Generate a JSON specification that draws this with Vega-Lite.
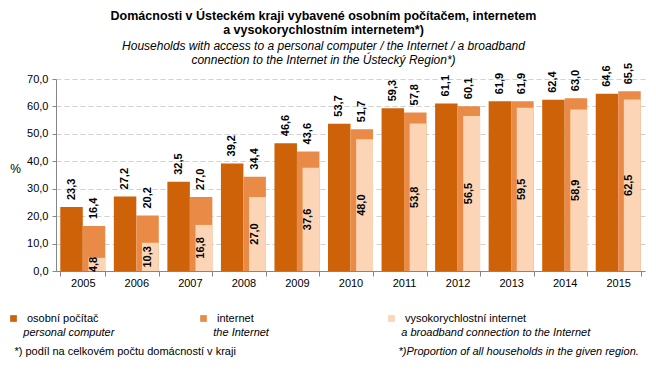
{
  "$schema": "https://vega.github.io/schema/vega-lite/v6.json",
  "width": 589,
  "height": 192,
  "autosize": {"type": "none"},
  "padding": {"left": 56, "top": 79, "right": 11, "bottom": 102},
  "background": "white",
  "config": {
    "font": "Liberation Sans",
    "locale": {"number": {"decimal": ",", "thousands": " ", "grouping": [3], "currency": ["", ""]}},
    "view": {"stroke": null}
  },
  "title": {
    "text": ["Domácnosti v Ústeckém  kraji vybavené osobním počítačem, internetem", "a vysokorychlostním  internetem*)"],
    "subtitle": ["Households with access to a personal computer / the Internet / a broadband", "connection to the Internet in the Ústecký Region*)"],
    "anchor": "middle",
    "dx": -27,
    "offset": -3,
    "fontSize": 12.5,
    "fontWeight": "bold",
    "lineHeight": 14,
    "color": "black",
    "subtitleFontSize": 12,
    "subtitleFontStyle": "italic",
    "subtitleLineHeight": 14,
    "subtitlePadding": 4,
    "subtitleColor": "black"
  },
  "data": {"values": [
    {"year": "2005", "series": "osobní počítač", "value": 23.3},
    {"year": "2006", "series": "osobní počítač", "value": 27.2},
    {"year": "2007", "series": "osobní počítač", "value": 32.5},
    {"year": "2008", "series": "osobní počítač", "value": 39.2},
    {"year": "2009", "series": "osobní počítač", "value": 46.6},
    {"year": "2010", "series": "osobní počítač", "value": 53.7},
    {"year": "2011", "series": "osobní počítač", "value": 59.3},
    {"year": "2012", "series": "osobní počítač", "value": 61.1},
    {"year": "2013", "series": "osobní počítač", "value": 61.9},
    {"year": "2014", "series": "osobní počítač", "value": 62.4},
    {"year": "2015", "series": "osobní počítač", "value": 64.6},
    {"year": "2005", "series": "internet", "value": 16.4},
    {"year": "2006", "series": "internet", "value": 20.2},
    {"year": "2007", "series": "internet", "value": 27.0},
    {"year": "2008", "series": "internet", "value": 34.4},
    {"year": "2009", "series": "internet", "value": 43.6},
    {"year": "2010", "series": "internet", "value": 51.7},
    {"year": "2011", "series": "internet", "value": 57.8},
    {"year": "2012", "series": "internet", "value": 60.1},
    {"year": "2013", "series": "internet", "value": 61.9},
    {"year": "2014", "series": "internet", "value": 63.0},
    {"year": "2015", "series": "internet", "value": 65.5},
    {"year": "2005", "series": "vysokorychlostní internet", "value": 4.8},
    {"year": "2006", "series": "vysokorychlostní internet", "value": 10.3},
    {"year": "2007", "series": "vysokorychlostní internet", "value": 16.8},
    {"year": "2008", "series": "vysokorychlostní internet", "value": 27.0},
    {"year": "2009", "series": "vysokorychlostní internet", "value": 37.6},
    {"year": "2010", "series": "vysokorychlostní internet", "value": 48.0},
    {"year": "2011", "series": "vysokorychlostní internet", "value": 53.8},
    {"year": "2012", "series": "vysokorychlostní internet", "value": 56.5},
    {"year": "2013", "series": "vysokorychlostní internet", "value": 59.5},
    {"year": "2014", "series": "vysokorychlostní internet", "value": 58.9},
    {"year": "2015", "series": "vysokorychlostní internet", "value": 62.5}
  ]},
  "resolve": {"scale": {"color": "independent", "y": "independent"}},
  "layer": [
    {
      "transform": [{"filter": "datum.series == 'osobní počítač'"}],
      "mark": {"type": "bar"},
      "encoding": {
        "x": {"field": "year", "type": "nominal", "scale": {"paddingInner": 0.16, "paddingOuter": 0.08},
          "axis": {"title": "*) podíl na celkovém počtu domácností v kraji", "titleX": -42, "titleY": 80, "titleAlign": "left", "titleBaseline": "middle", "titleFontWeight": "normal", "titleFontSize": 11, "titleColor": "black",
            "labelAngle": 0, "labelFontSize": 11, "labelColor": "black", "tickBand": "extent", "tickSize": 5, "labelPadding": 1, "domainColor": "#868686", "tickColor": "#868686"}},
        "xOffset": {"field": "series", "type": "nominal", "scale": {"domain": ["osobní počítač", "internet"], "paddingInner": 0, "paddingOuter": 0}},
        "y": {"field": "value", "type": "quantitative", "scale": {"domain": [0, 70]},
          "axis": {"values": [0, 10, 20, 30, 40, 50, 60, 70], "format": ".1f", "grid": true, "gridDash": [5, 3], "gridColor": "#d0d0d0",
            "title": "%", "titleAngle": 0, "titleX": -41, "titleY": 89, "titleAlign": "center", "titleBaseline": "middle", "titleFontSize": 12, "titleFontWeight": "normal", "titleColor": "black",
            "labelFontSize": 11, "labelColor": "black", "tickSize": 4, "labelPadding": 4, "domainColor": "#868686", "tickColor": "#868686"}},
        "color": {"field": "series", "type": "nominal", "scale": {"range": ["#CD6209"]},
          "legend": {"orient": "none", "legendX": -48, "legendY": 234, "padding": 0, "symbolType": "square", "symbolSize": 45, "symbolStrokeWidth": 0, "labelOffset": 8, "labelFontSize": 11, "labelColor": "black", "titleLimit": 300,
            "title": "\u200b\u00a0\u00a0\u00a0\u00a0\u00a0personal computer", "titleOrient": "bottom", "titleAnchor": "start", "titleAlign": "left", "titleFontStyle": "italic", "titleFontWeight": "normal", "titleFontSize": 11, "titleColor": "black", "titlePadding": 3}}
      }
    },
    {
      "transform": [{"filter": "datum.series == 'internet'"}],
      "mark": {"type": "bar"},
      "encoding": {
        "x": {"field": "year", "type": "nominal"},
        "xOffset": {"field": "series", "type": "nominal"},
        "y": {"field": "value", "type": "quantitative", "scale": {"domain": [0, 70]},
          "axis": {"orient": "right", "domain": false, "ticks": false, "labels": false, "grid": false,
            "title": "*)Proportion of all households in the given region.", "titleAngle": 0, "titleX": -247, "titleY": 272, "titleAlign": "left", "titleBaseline": "middle", "titleFontStyle": "italic", "titleFontWeight": "normal", "titleFontSize": 11, "titleColor": "black", "titleLimit": 300}},
        "color": {"field": "series", "type": "nominal", "scale": {"range": ["#E98B46"]},
          "legend": {"orient": "none", "legendX": 142, "legendY": 234, "padding": 0, "symbolType": "square", "symbolSize": 45, "symbolStrokeWidth": 0, "labelOffset": 8, "labelFontSize": 11, "labelColor": "black", "titleLimit": 300,
            "title": "\u200b\u00a0\u00a0\u00a0\u00a0\u00a0the Internet", "titleOrient": "bottom", "titleAnchor": "start", "titleAlign": "left", "titleFontStyle": "italic", "titleFontWeight": "normal", "titleFontSize": 11, "titleColor": "black", "titlePadding": 3}}
      }
    },
    {
      "transform": [{"filter": "datum.series == 'vysokorychlostní internet'"}],
      "mark": {"type": "bar", "width": {"band": 0.75}},
      "encoding": {
        "x": {"field": "year", "type": "nominal"},
        "xOffset": {"datum": "internet", "type": "nominal"},
        "y": {"field": "value", "type": "quantitative", "scale": {"domain": [0, 70]}, "axis": null},
        "color": {"field": "series", "type": "nominal", "scale": {"range": ["#FBD5B5"]},
          "legend": {"orient": "none", "legendX": 330, "legendY": 234, "padding": 0, "symbolType": "square", "symbolSize": 45, "symbolStrokeWidth": 0, "labelOffset": 8, "labelFontSize": 11, "labelColor": "black", "titleLimit": 300,
            "title": "\u200b\u00a0\u00a0\u00a0\u00a0\u00a0a broadband connection to the Internet", "titleOrient": "bottom", "titleAnchor": "start", "titleAlign": "left", "titleFontStyle": "italic", "titleFontWeight": "normal", "titleFontSize": 11, "titleColor": "black", "titlePadding": 3}}
      }
    },
    {
      "transform": [{"filter": "datum.series != 'vysokorychlostní internet'"}],
      "mark": {"type": "text", "angle": 270, "align": "left", "baseline": "middle", "dx": 7, "fontWeight": "bold", "fontSize": 11, "color": "black"},
      "encoding": {
        "x": {"field": "year", "type": "nominal"},
        "xOffset": {"field": "series", "type": "nominal"},
        "y": {"field": "value", "type": "quantitative", "scale": {"domain": [0, 70]}, "axis": null},
        "text": {"field": "value", "type": "quantitative", "format": ".1f"}
      }
    },
    {
      "transform": [{"filter": "datum.series == 'vysokorychlostní internet'"}],
      "mark": {"type": "text", "angle": 270, "align": "center", "baseline": "middle", "fontWeight": "bold", "fontSize": 11, "color": "black"},
      "encoding": {
        "x": {"field": "year", "type": "nominal"},
        "xOffset": {"datum": "internet", "type": "nominal"},
        "y": {"field": "value", "type": "quantitative", "scale": {"domain": [0, 140]}, "axis": null},
        "text": {"field": "value", "type": "quantitative", "format": ".1f"}
      }
    }
  ]
}
